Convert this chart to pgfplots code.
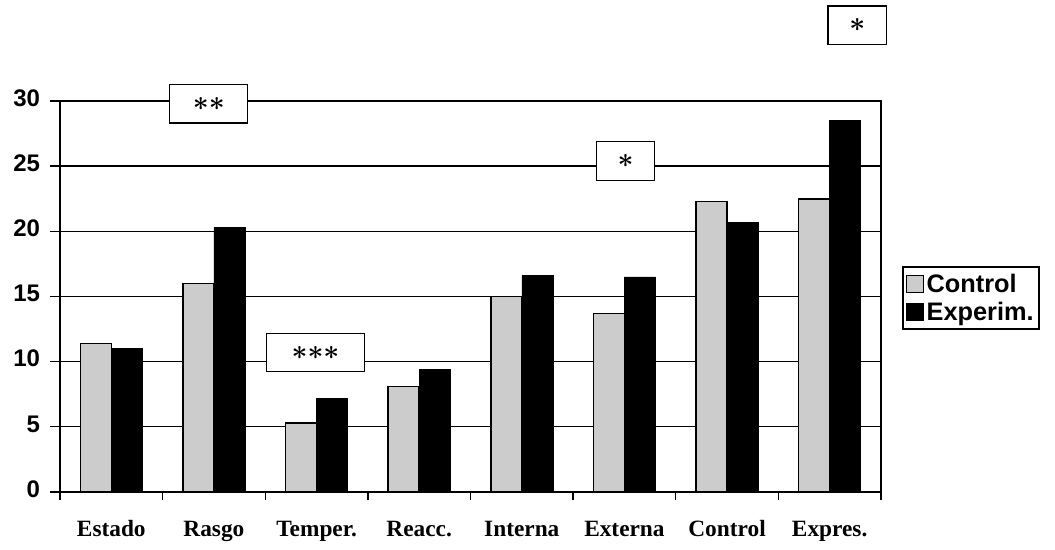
\documentclass[border=0pt]{standalone}
\usepackage{pgfplots}
\pgfplotsset{compat=1.18}
\usepackage{fontspec}
\setmainfont{Liberation Serif}
\setsansfont{Liberation Sans}
\begin{document}
\begin{tikzpicture}[x=0.75pt,y=0.75pt]
\useasboundingbox (-60,-57) rectangle (995,492);
\begin{axis}[
  scale only axis,
  width=615.75pt, height=293.25pt,
  xmin=-0.5, xmax=7.5, ymin=0, ymax=30,
  ybar=0pt, bar width=23.25pt,
  clip=false,
  axis line style={line width=1.2pt},
  ytick={0,5,...,30},
  ymajorgrids, grid style={black, line width=1pt},
  xtick={0,...,7},
  xticklabels={Estado,Rasgo,Temper.,Reacc.,Interna,Externa,Control,Expres.},
  major x tick style={draw=none},
  minor xtick={-0.5,0.5,...,7.5},
  minor x tick style={black, line width=1pt},
  minor tick length=6pt,
  major tick length=7.5pt,
  y tick style={black, line width=1pt},
  tick align=outside,
  xtick pos=bottom, ytick pos=left,
  typeset ticklabels with strut,
  /pgf/number format/assume math mode=true,
  yticklabel style={font=\sffamily\bfseries\fontsize{18}{20}\selectfont, xshift=-4pt},
  xticklabel style={font=\bfseries\fontsize{17.5}{20}\selectfont, yshift=-8pt},
  legend style={at={(rel axis cs:1.026,0.496)}, anchor=west, draw=black, line width=0.9pt,
    font=\sffamily\bfseries\fontsize{19}{22}\selectfont, inner xsep=2pt, inner ysep=3pt, row sep=2pt,
    /tikz/every even column/.append style={column sep=3pt}},
  legend cell align=left,
  legend image code/.code={\draw[#1, line width=0.8pt] (0pt,-6.5pt) rectangle (13pt,6.5pt);},
]
\addplot[draw=black, line width=1.2pt, fill=black!20] coordinates {(0,11.4) (1,16.0) (2,5.3) (3,8.1) (4,15.0) (5,13.7) (6,22.3) (7,22.5)};
\addplot[draw=black, fill=black] coordinates {(0,11.0) (1,20.3) (2,7.2) (3,9.4) (4,16.6) (5,16.5) (6,20.7) (7,28.5)};
\legend{Control,Experim.}
\tikzset{sigbox/.style={draw, fill=white, line width=0.9pt, minimum height=29pt, font=\fontsize{21}{22}\selectfont\boldmath}}
\node[sigbox, minimum width=58.5pt] at (axis cs:0.95,29.8) {${\ast}{\ast}$};
\node[sigbox, minimum width=74pt] at (axis cs:1.99,10.7) {${\ast}{\ast}{\ast}$};
\node[sigbox, minimum width=44pt] at (axis cs:5.01,25.4) {$\ast$};
\node[sigbox, minimum width=44pt] at (axis cs:7.27,35.8) {$\ast$};
\end{axis}
\end{tikzpicture}
\end{document}
